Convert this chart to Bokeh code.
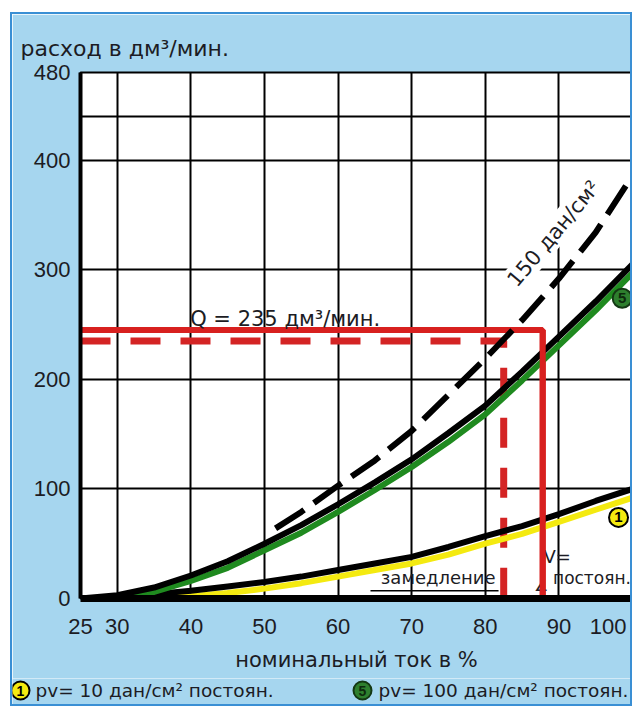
from bokeh.plotting import figure
from bokeh.models import FixedTicker, Label, Range1d
from bokeh.layouts import column
from bokeh.core.properties import value
from bokeh.embed import file_html
from bokeh.resources import INLINE

# ---- data ----
x_pct = [25, 30, 35, 40, 45, 50, 55, 60, 65, 70, 75, 80, 85, 90, 95, 100]
curve5 = [0, 3, 10, 21, 34, 50, 67, 86, 106, 127, 151, 176, 207, 239, 271, 305]
curve5_band = [0, 1, 6, 16, 28, 44, 60, 79, 99, 120, 143, 168, 199, 231, 263, 297]
curve1 = [0, 1, 4, 7, 11, 15, 20, 26, 32, 38, 47, 57, 66, 77, 89, 100]
x_band1 = [35, 40, 45, 50, 55, 60, 65, 70, 75, 80, 85, 90, 95, 100]
curve1_band = [0, 2, 5, 9, 14, 20, 26, 32, 40, 50, 59, 70, 81, 92]
x150 = [51.5, 55, 60, 65, 70, 75, 80, 85, 90, 95, 100]
curve150 = [64, 79, 103, 126, 153, 186, 219, 254, 292, 334, 386]
q_slow, i_slow = 235, 82.5
q_const, i_const = 245, 87.8
x_start = 25
x_ticks = [25, 30, 40, 50, 60, 70, 80, 90, 100]
y_ticks = [0, 100, 200, 300, 400, 480]
x_grid = [30, 40, 50, 60, 70, 80, 90]
y_grid = [100, 200, 300, 400, 440]
legend_labels = ["pv=  10 дан/см² постоян.", "pv= 100 дан/см² постоян."]
curve_numbers = ["1", "5"]

TXT = "#1c1c24"
SANS = "DejaVu Sans"
NUM = "Liberation Sans"
BG = "#a6d6ef"
EDGE = "2px solid #3a8fd4"
YELLOW = "#f4ea10"
GREEN = "#1f8a1f"
BADGE_GREEN = "#2e7f2e"
BADGE_FILL = [YELLOW, BADGE_GREEN]
BADGE_EDGE = ["black", "#143814"]
BADGE_TEXT = ["black", "#0d2a0d"]

p = figure(width=622, height=666, x_range=Range1d(25, 100), y_range=Range1d(0, 480),
           output_backend="svg", toolbar_location=None,
           min_border_left=68, min_border_right=2, min_border_top=58, min_border_bottom=82,
           background_fill_color="white", border_fill_color=BG)
p.styles = {"border-top": EDGE, "border-left": EDGE, "border-right": EDGE,
            "margin-left": "10px", "margin-top": "12px"}

p.title.text = "расход в дм³/мин."
p.title.align = "left"
p.title.offset = -60
p.title.standoff = 24
p.title.text_font = SANS
p.title.text_font_size = "22px"
p.title.text_font_style = "normal"
p.title.text_color = TXT

p.outline_line_color = "black"
p.outline_line_width = 2

p.xgrid.ticker = FixedTicker(ticks=x_grid)
p.ygrid.ticker = FixedTicker(ticks=y_grid)
for g in (p.xgrid, p.ygrid):
    g.grid_line_color = "black"
    g.grid_line_width = 2
    g.grid_line_alpha = 1

# the "100" label sits a little left of the right frame edge in the original
last_label_pos = 96.7
p.xaxis.ticker = FixedTicker(ticks=x_ticks[:-1] + [last_label_pos])
p.xaxis.major_label_overrides = {last_label_pos: str(x_ticks[-1])}
p.yaxis.ticker = FixedTicker(ticks=y_ticks)
for ax in (p.xaxis, p.yaxis):
    ax.major_tick_line_color = None
    ax.minor_tick_line_color = None
    ax.major_tick_out = 0
    ax.major_tick_in = 0
    ax.axis_line_color = "black"
    ax.major_label_text_font = NUM
    ax.major_label_text_font_size = "22px"
    ax.major_label_text_color = TXT
p.xaxis.axis_line_width = 7
p.yaxis.axis_line_width = 4
p.xaxis.major_label_standoff = 20
p.yaxis.major_label_standoff = 10
p.xaxis.axis_label = "номинальный ток в %"
p.xaxis.axis_label_text_font = SANS
p.xaxis.axis_label_text_font_size = "21px"
p.xaxis.axis_label_text_font_style = "normal"
p.xaxis.axis_label_text_color = TXT
p.xaxis.axis_label_standoff = 11

# red Q lines
p.line([x_start, i_slow, i_slow], [q_slow, q_slow, 0], line_color="#d42424",
       line_width=7, line_dash="30 20")
p.line([x_start, i_const, i_const], [q_const, q_const, 0], line_color="#d8201f",
       line_width=6)

# curves
p.line(x_band1, curve1_band, line_color=YELLOW, line_width=6)
p.line(x_pct, curve1, line_color="black", line_width=6)
p.line(x_pct, curve5_band, line_color=GREEN, line_width=6)
p.line(x_pct, curve5, line_color="black", line_width=6)
p.line(x150, curve150, line_color="black", line_width=6, line_dash="34 12")

# thin baseline under "замедление"
p.line([64.4, 81.8], [7, 7], line_color="black", line_width=1.5)

# in-plot texts
p.text(x=[39.9], y=[255.5], text=["Q =  235 дм³/мин."], text_font=value(SANS),
       text_font_size="21px", text_baseline="middle", text_color=TXT)
p.text(x=[65.8], y=[19.2], text=["замедление"], text_font=value(SANS),
       text_font_size="18px", text_baseline="middle", text_color=TXT)
p.text(x=[89.2], y=[18.3], text=["постоян."], text_font=value(SANS),
       text_font_size="17px", text_baseline="middle", text_color=TXT)
p.text(x=[86.6], y=[12], text=["∠"], text_font=value(SANS),
       text_font_size="16px", text_baseline="middle", text_color=TXT)
p.text(x=[87.9], y=[38.5], text=["V="], text_font=value(SANS),
       text_font_size="18px", text_baseline="middle", text_color=TXT)
# solid red vertical redrawn over the V= text
p.line([i_const, i_const], [q_const, 0], line_color="#d8201f", line_width=6)

p.add_layout(Label(x=89.3, y=333, text="150 дан/см²", angle=50, angle_units="deg",
                   text_align="center", text_baseline="middle", text_font=SANS,
                   text_font_size="21px", text_color=TXT,
                   background_fill_color="white", padding=1))

# curve number badges
p.scatter([98.1, 98.6], [74, 274], size=19, fill_color=BADGE_FILL,
          line_color=BADGE_EDGE, line_width=2)
p.text(x=[98.1, 98.6], y=[74, 274], text=curve_numbers, text_align="center",
       text_baseline="middle", text_font=value(NUM), text_font_size="15px",
       text_font_style="bold", text_color=BADGE_TEXT)

# bottom legend strip (its own small figure, frame not aligned with the chart)
leg = figure(width=622, height=28, x_range=Range1d(0, 622), y_range=Range1d(0, 28),
             output_backend="svg", toolbar_location=None, x_axis_type=None, y_axis_type=None,
             min_border=0, min_border_left=0, min_border_right=0, min_border_top=0,
             min_border_bottom=0, background_fill_color=BG, border_fill_color=BG,
             frame_align=False)
leg.styles = {"border-bottom": EDGE, "border-left": EDGE, "border-right": EDGE,
              "margin-left": "10px"}
leg.outline_line_color = None
leg.grid.visible = False
leg.scatter([8, 350], [16, 16], size=18, fill_color=BADGE_FILL,
            line_color=BADGE_EDGE, line_width=2)
leg.text(x=[8, 350], y=[16, 16], text=curve_numbers, text_align="center",
         text_baseline="middle", text_font=value(NUM), text_font_size="14px",
         text_font_style="bold", text_color=BADGE_TEXT)
leg.text(x=[23, 366], y=[16, 16], text=legend_labels, text_baseline="middle",
         text_font=value(SANS), text_font_size="18.5px", text_color=TXT)

layout = column(p, leg, spacing=0)
open("out.html", "w").write(file_html(layout, INLINE))
